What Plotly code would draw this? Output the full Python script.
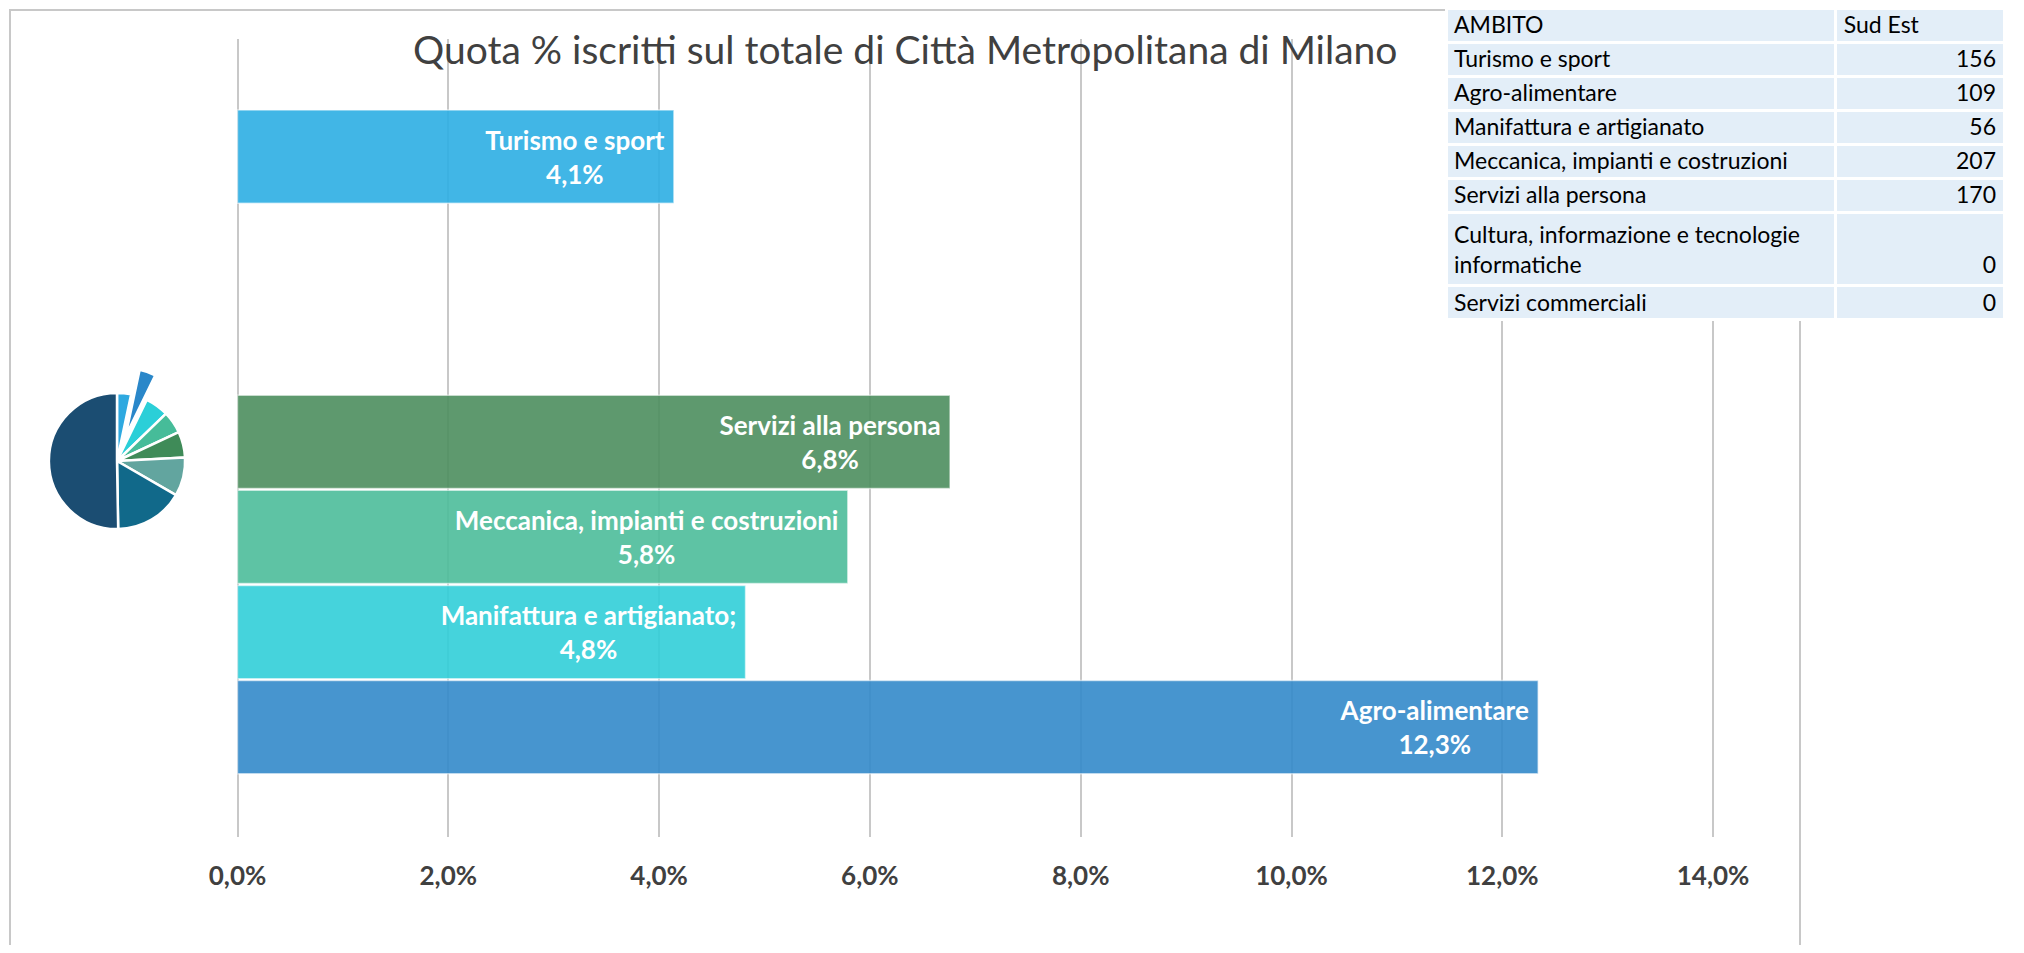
import plotly.graph_objects as go

# ---------------- data ----------------
ambiti = ["Turismo e sport",
          "Cultura, informazione e tecnologie informatiche",
          "Servizi commerciali",
          "Servizi alla persona",
          "Meccanica, impianti e costruzioni",
          "Manifattura e artigianato",
          "Agro-alimentare"]
quote = [4.14, 0.0, 0.0, 6.76, 5.79, 4.82, 12.34]
etichette = ["Turismo e sport", "", "", "Servizi alla persona",
             "Meccanica, impianti e costruzioni", "Manifattura e artigianato;",
             "Agro-alimentare"]
etichette_pct = ["4,1%", "", "", "6,8%", "5,8%", "4,8%", "12,3%"]
colori_barre = ["rgba(44,174,227,0.9)", "rgba(200,200,200,0.9)", "rgba(200,200,200,0.9)",
                "rgba(76,142,94,0.9)", "rgba(76,189,154,0.9)", "rgba(49,206,216,0.9)",
                "rgba(51,137,202,0.9)"]

tick_vals = [0, 2, 4, 6, 8, 10, 12, 14]
tick_text = ["0,0%", "2,0%", "4,0%", "6,0%", "8,0%", "10,0%", "12,0%", "14,0%"]

tab_ambiti = ["Turismo e sport", "Agro-alimentare", "Manifattura e artigianato",
              "Meccanica, impianti e costruzioni", "Servizi alla persona",
              "Cultura, informazione e tecnologie<br>informatiche", "Servizi commerciali"]
tab_sudest = [156, 109, 56, 207, 170, 0, 0]

torta_valori = [12, 14, 20, 19, 22, 33, 59, 181]
torta_colori = ["#2EA9E0", "#2A87C9", "#2BCFD8", "#46BC99", "#3F8B58", "#62A59F", "#11698A", "#1B4D72"]
torta_pull = [0, 0.38, 0, 0, 0, 0, 0, 0]

titolo = "Quota % iscritti sul totale di Città Metropolitana di Milano"

# ---------------- geometry helpers (page has an 8px body margin) ----------------
OFF = 8
W, H = 2024 - 2 * OFF, 953 - 2 * OFF


def px(x):
    return min(1.0, max(0.0, (x - OFF) / W))


def py(y):
    return min(1.0, max(0.0, 1 - (y - OFF) / H))


fig = go.Figure()

testi = [f"<b>{a}&nbsp;<br>{p}&nbsp;</b>" if a else "" for a, p in zip(etichette, etichette_pct)]
fig.add_trace(go.Bar(
    y=ambiti, x=quote, orientation="h",
    marker=dict(color=colori_barre,
                line=dict(color="rgba(255,255,255,0.55)",
                          width=[1.5 if q > 0 else 0 for q in quote])),
    text=testi, textposition="inside", insidetextanchor="end",
    constraintext="none",
    textfont=dict(family="Lato", size=26, color="white"),
    hoverinfo="skip", showlegend=False,
))

fig.add_trace(go.Pie(
    values=torta_valori, sort=False, direction="clockwise", rotation=0,
    marker=dict(colors=torta_colori, line=dict(color="white", width=2.5)),
    pull=torta_pull, textinfo="none", hoverinfo="skip", showlegend=False,
    domain=dict(x=[px(23), px(211)], y=[py(555), py(367)]),
))

valori_tab = [("&nbsp;<br>" + str(v)) if "<br>" in a else str(v)
              for a, v in zip(tab_ambiti, tab_sudest)]
fig.add_trace(go.Table(
    columnwidth=[389, 168],
    header=dict(values=["AMBITO", "Sud Est"], align=["left", "left"],
                fill_color="#E3EEF8", line=dict(color="white", width=3),
                font=dict(family="Lato", size=23, color="black"), height=34),
    cells=dict(values=[tab_ambiti, valori_tab],
               align=["left", "right"],
               fill_color="#E3EEF8", line=dict(color="white", width=3),
               font=dict(family="Lato", size=23, color="black"), height=34),
    domain=dict(x=[px(1446), px(2004)], y=[py(324), py(6)]),
))

# plot area geometry (page pixels)
px_per_unit = 105.4
x0_px = 237.5
xr = [-0.5, 14.5]
left_px = x0_px + xr[0] * px_per_unit
right_px = x0_px + xr[1] * px_per_unit

fig.update_layout(
    width=W, height=H,
    margin=dict(l=0, r=0, t=0, b=0),
    paper_bgcolor="white", plot_bgcolor="white",
    bargap=0.02,
    font=dict(family="Lato", color="#404040"),
    xaxis=dict(domain=[px(left_px), px(right_px)], range=xr,
               tickvals=tick_vals, ticktext=tick_text,
               tickfont=dict(family="Lato", size=26, color="#404040", weight="bold"),
               showgrid=True, gridcolor="#c8c8c8", gridwidth=1.5,
               zeroline=False, showline=False,
               ticks="outside", ticklen=16, tickcolor="rgba(0,0,0,0)"),
    yaxis=dict(domain=[py(836.5), py(38.7)],
               categoryorder="array", categoryarray=list(reversed(ambiti)),
               range=[-1.15, 7.24], showticklabels=False, showgrid=False,
               zeroline=False, showline=False),
    annotations=[dict(text=titolo, x=px(905), y=py(49), xref="paper", yref="paper",
                      xanchor="center", yanchor="middle", showarrow=False,
                      font=dict(family="Lato", size=39, color="#404040"))],
    shapes=[dict(type="rect", xref="paper", yref="paper",
                 x0=px(10), x1=px(1800), y0=-0.2, y1=py(10),
                 line=dict(color="#c8c8c8", width=2), layer="below")],
)

fig.write_html("out.html")
